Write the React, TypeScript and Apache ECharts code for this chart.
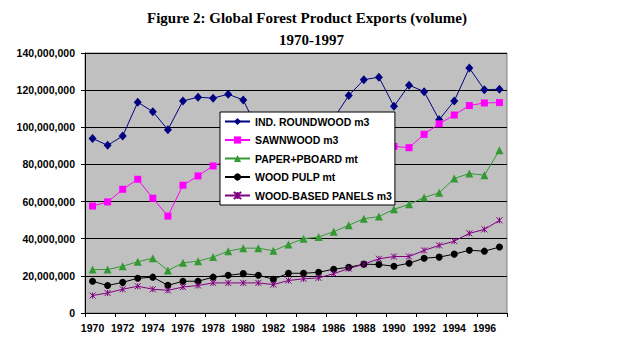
import React, { useEffect, useRef } from "react";
import * as echarts from "echarts";

const years = [
  "1970","1971","1972","1973","1974","1975","1976","1977","1978","1979",
  "1980","1981","1982","1983","1984","1985","1986","1987","1988","1989",
  "1990","1991","1992","1993","1994","1995","1996","1997",
];

const roundwood = [
  94.0, 90.3, 95.3, 113.5, 108.4, 98.7, 114.2, 116.2, 115.7, 117.8,
  114.7, 98, 92, 96, 101, 100, 104.7, 117.1, 125.6, 127.0,
  111.3, 122.7, 119.2, 104.1, 114.2, 131.9, 120.2, 120.5,
].map((v) => v * 1e6);

const sawnwood = [
  57.6, 59.8, 66.6, 72.0, 61.8, 52.2, 68.8, 73.8, 79.2, 82.3,
  83, 80, 75, 80, 82, 83, 85, 87, 88, 88,
  89.7, 89.0, 96.2, 101.9, 106.6, 111.7, 113.1, 113.3,
].map((v) => v * 1e6);

const paper = [
  23.4, 23.4, 25.2, 27.6, 29.5, 22.9, 27.0, 27.9, 30.1, 33.3,
  34.9, 34.9, 33.5, 36.9, 40.0, 40.9, 43.8, 47.2, 50.8, 51.9,
  55.8, 58.5, 62.2, 64.7, 72.4, 75.1, 74.2, 87.7,
].map((v) => v * 1e6);

const pulp = [
  17.1, 14.8, 16.5, 18.7, 19.3, 14.9, 17.1, 17.1, 19.3, 20.3,
  21.2, 20.3, 18.2, 21.4, 21.4, 21.9, 23.6, 24.6, 26.3, 26.1,
  25.2, 26.8, 29.5, 30.1, 31.7, 33.8, 33.3, 35.5,
].map((v) => v * 1e6);

const panels = [
  9.4, 10.8, 12.8, 14.4, 12.8, 12.2, 14.0, 14.8, 16.2, 16.2,
  16.2, 16.2, 15.3, 17.5, 18.4, 18.9, 21.2, 23.9, 26.3, 29.2,
  30.4, 30.4, 33.7, 36.4, 38.7, 42.9, 45.0, 49.9,
].map((v) => v * 1e6);

const seriesNames = [
  "IND. ROUNDWOOD m3",
  "SAWNWOOD m3",
  "PAPER+PBOARD mt",
  "WOOD PULP mt",
  "WOOD-BASED PANELS m3",
];

const titleLine1 = "Figure 2: Global Forest Product Exports (volume)";
const titleLine2 = "1970-1997";

const SANS = 'Arial, "Liberation Sans", sans-serif';
const SERIF = '"Times New Roman", "Liberation Serif", serif';
const STAR = "path://M0,0 L10,10 M10,0 L0,10 M5,0 L5,10";

export default function App() {
  const ref = useRef<HTMLDivElement>(null);

  useEffect(() => {
    if (!ref.current) return;
    const chart = echarts.init(ref.current, null, { renderer: "svg" });

    const mk = (
      name: string,
      data: number[],
      color: string,
      symbol: string,
      symbolSize: any,
      extraItem: any = {}
    ) => ({
      name,
      type: "line",
      data,
      symbol,
      symbolSize,
      showSymbol: true,
      lineStyle: { color, width: 1 },
      itemStyle: { color, ...extraItem },
      emphasis: { disabled: true },
    });

    chart.setOption({
      animation: false,
      backgroundColor: "#ffffff",
      graphic: [
        {
          type: "text",
          left: 147,
          top: 10,
          style: {
            text: titleLine1,
            font: `bold 15px ${SERIF}`,
            fill: "#000",
          },
        },
        {
          type: "text",
          left: 279,
          top: 32,
          style: {
            text: titleLine2,
            font: `bold 15px ${SERIF}`,
            fill: "#000",
          },
        },
      ],
      grid: {
        left: 85,
        top: 53,
        width: 422,
        height: 260,
        show: true,
        backgroundColor: "#c0c0c0",
        borderColor: "#808080",
        borderWidth: 1,
      },
      legend: {
        orient: "vertical",
        left: 220,
        top: 112,
        data: seriesNames,
        backgroundColor: "#ffffff",
        borderColor: "#000000",
        borderWidth: 1,
        padding: [4, 3, 4, 4],
        itemWidth: 25,
        itemHeight: 9,
        itemGap: 7.5,
        textStyle: {
          fontFamily: SANS,
          fontWeight: "bold",
          fontSize: 10.5,
          color: "#000",
        },
        selectedMode: false,
      },
      xAxis: {
        type: "category",
        data: years,
        boundaryGap: true,
        axisLine: { lineStyle: { color: "#000", width: 1 } },
        axisTick: {
          show: true,
          interval: 1,
          length: 4,
          alignWithLabel: false,
          lineStyle: { color: "#000" },
        },
        axisLabel: {
          interval: 1,
          margin: 9,
          fontFamily: SANS,
          fontWeight: "bold",
          fontSize: 10.5,
          color: "#000",
        },
        splitLine: { show: false },
      },
      yAxis: {
        type: "value",
        min: 0,
        max: 140000000,
        interval: 20000000,
        axisLine: { show: true, lineStyle: { color: "#000", width: 1 } },
        axisTick: { show: true, length: 4, lineStyle: { color: "#000" } },
        axisLabel: {
          margin: 10,
          fontFamily: SANS,
          fontWeight: "bold",
          fontSize: 10.5,
          color: "#000",
          formatter: (v: number) => v.toLocaleString("en-US"),
        },
        splitLine: { show: true, lineStyle: { color: "#000", width: 1 } },
      },
      series: [
        mk(seriesNames[0], roundwood, "#000080", "diamond", [8, 9]),
        mk(seriesNames[1], sawnwood, "#ff00ff", "rect", 7),
        mk(seriesNames[2], paper, "#339933", "triangle", 8),
        mk(seriesNames[3], pulp, "#000000", "circle", 7),
        mk(seriesNames[4], panels, "#800080", STAR, 6, {
          borderColor: "#800080",
          borderWidth: 1,
        }),
      ],
    });

    return () => chart.dispose();
  }, []);

  return (
    <div
      ref={ref}
      style={{ position: "absolute", left: 0, top: 0, width: 617, height: 355 }}
    />
  );
}
